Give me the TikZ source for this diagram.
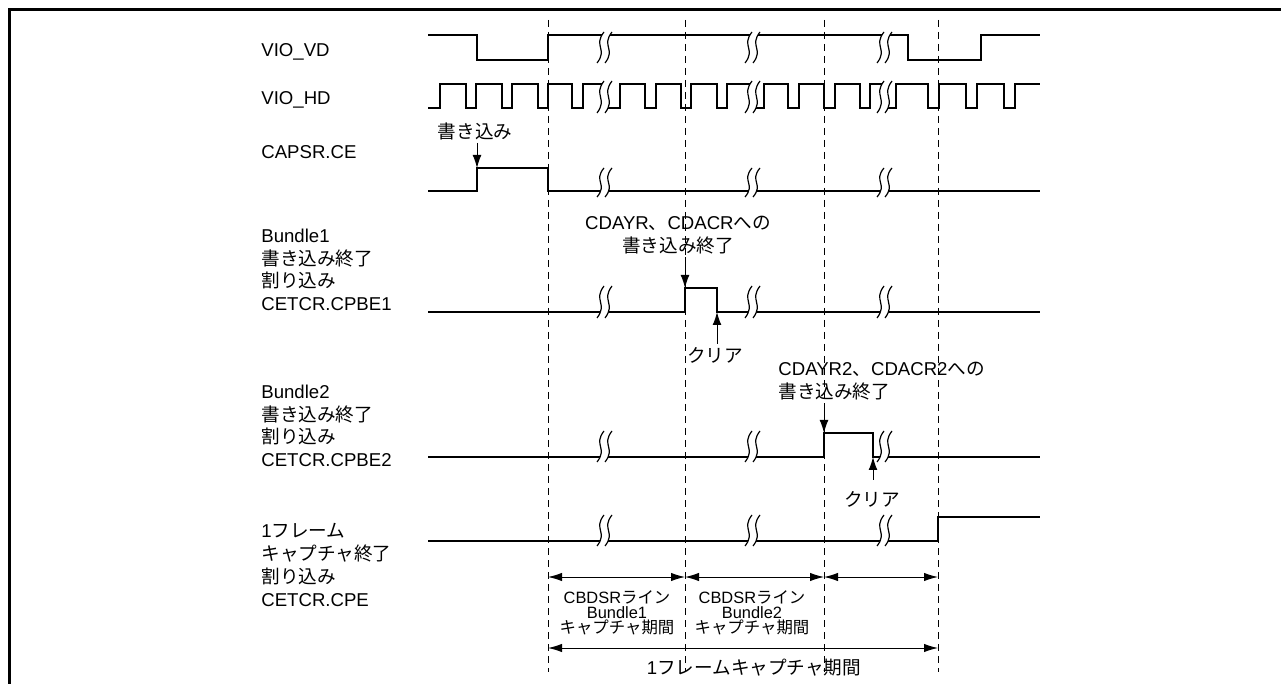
\documentclass[tikz,border=0pt]{standalone}
\usepackage{fontspec}
\setmainfont{Liberation Sans}
\newfontfamily\jp{Noto Sans CJK JP}
\usetikzlibrary{arrows.meta}
% wavy break mark: left x, top y, bottom y
\newcommand{\sigbreak}[3]{%
  \fill[white] ({#1+4},#2) .. controls ({#1-7},{#2+0.45*(#3-#2)}) and ({#1+8},{#2+0.55*(#3-#2)}) .. ({#1-3},#3)
    -- ({#1+5},#3) .. controls ({#1+16},{#2+0.55*(#3-#2)}) and ({#1+1},{#2+0.45*(#3-#2)}) .. ({#1+12},#2) -- cycle;
  \draw[line width=0.6pt] ({#1+4},#2) .. controls ({#1-7},{#2+0.45*(#3-#2)}) and ({#1+8},{#2+0.55*(#3-#2)}) .. ({#1-3},#3);
  \draw[line width=0.6pt] ({#1+12},#2) .. controls ({#1+1},{#2+0.45*(#3-#2)}) and ({#1+16},{#2+0.55*(#3-#2)}) .. ({#1+5},#3);
}

\begin{document}
\begin{tikzpicture}[
                x=0.5pt, y=-0.5pt,
                sig/.style={line width=1.25pt},
                guide/.style={line width=0.5pt, dash pattern=on 3.5pt off 2.5pt},
                lbl/.style={anchor=west, align=left, inner sep=0pt, font=\fontsize{9.3}{11.35}\selectfont},
                note/.style={align=center, inner sep=1.5pt, font=\fontsize{9.3}{11.5}\selectfont},
                small/.style={align=center, inner sep=0pt, font=\fontsize{8.2}{7.6}\selectfont},
                marker/.style={-{Latex[length=6.5pt,width=4.4pt]}, line width=0.5pt},
                span/.style={{Latex[length=7pt,width=4.2pt]}-{Latex[length=7pt,width=4.2pt]}, line width=0.5pt}
            ]
            \useasboundingbox (0,0) rectangle (1281,684);
            \draw[line width=1.5pt] (1281,10) -- (9.5,10) -- (9.5,684);

            % signal names
            \node[lbl] (vd) at (261,52) {VIO\_VD};
            \node[lbl] (hd) at (261,100) {VIO\_HD};
            \node[lbl] (ce) at (261,152) {CAPSR.CE};
            \node[lbl] (b1) at (261,270) {Bundle1\\{\jp 書き込み終了}\\{\jp 割り込み}\\CETCR.CPBE1};
            \node[lbl] (b2) at (261,426) {Bundle2\\{\jp 書き込み終了}\\{\jp 割り込み}\\CETCR.CPBE2};
            \node[lbl] (fr) at (261,565) {1{\jp フレーム}\\{\jp キャプチャ終了}\\{\jp 割り込み}\\CETCR.CPE};

            % frame boundaries
            \foreach \n/\x in {a/548, b/685, c/824, d/938} {
                \coordinate (top\n) at (\x,20);
                \coordinate (bot\n) at (\x,672);
                \draw[guide] (top\n) -- (bot\n);
            }

            % waveforms
            \draw[sig] (428,35) -- (477,35) -- (477,60) -- (548,60) -- (548,35) -- (908,35) -- (908,60) -- (981,60) -- (981,35) -- (1040,35);
            \draw[sig] (428,108) -- (440,108) -- (440,84)
                \foreach \a/\b in {466/476, 502/512, 538/548, 572/583, 606/620, 645/656, 681/691, 717/727, 753/764, 788/799, 824/835, 860/870, 886/896, 928/939, 966/977, 1004/1015} {
                    -- (\a,84) -- (\a,108) -- (\b,108) -- (\b,84)
                } -- (1040,84);
            \draw[sig] (428,191) -- (477,191) -- (477,168) -- (548,168) -- (548,191) -- (1040,191);
            \draw[sig] (428,312) -- (685,312) -- (685,288) -- (717,288) -- (717,312) -- (1040,312);
            \draw[sig] (428,457) -- (824,457) -- (824,433) -- (873,433) -- (873,457) -- (1040,457);
            \draw[sig] (428,541) -- (938,541) -- (938,517) -- (1040,517);

            % break marks
            \foreach \x in {600, 748, 880} {
                \sigbreak{\x}{32}{63}
                \sigbreak{\x}{81}{113}
                \sigbreak{\x}{168}{197}
                \sigbreak{\x}{286}{318}
                \sigbreak{\x}{431}{462}
                \sigbreak{\x}{515}{546}
            }

            \coordinate (ceRise) at (477,168);
            \coordinate (b1Rise) at (685,288);
            \coordinate (b1Fall) at (717,312);
            \coordinate (b2Rise) at (824,433);
            \coordinate (b2Fall) at (873,457);

            % events
            \node[note] (wr) at (475,131) {\jp 書き込み};
            \node[note] (cd1) at (678,235) {CDAYR{\jp 、}CDACR{\jp への}\\{\jp 書き込み終了}};
            \node[note] (clr1) at (715,355) {\jp クリア};
            \node[note, anchor=west, align=left] (cd2) at (775,381) {CDAYR2{\jp 、}CDACR2{\jp への}\\{\jp 書き込み終了}};
            \node[note] (clr2) at (872,499) {\jp クリア};
            \draw[marker] (wr.south -| ceRise) -- (ceRise);
            \draw[marker] (cd1.south -| b1Rise) -- (b1Rise);
            \draw[marker] (clr1.north -| b1Fall) -- (b1Fall);
            \draw[marker] (cd2.south -| b2Rise) -- (b2Rise);
            \draw[marker, shorten <=4pt] (clr2.north -| b2Fall) -- (b2Fall);

            % capture periods
            \foreach \n in {a, b, c, d} {
                \coordinate (p\n) at (top\n |- 0,577);
                \coordinate (q\n) at (top\n |- 0,648);
            }
            \draw[span] (pa) -- (pb);
            \draw[span] (pb) -- (pc);
            \draw[span] (pc) -- (pd);
            \draw[span] (qa) -- (qd);
            \node[small] (per1) at (617,613) {CBDSR{\jp ライン}\\Bundle1\\{\jp キャプチャ期間}};
            \node[small] (per2) at (752,613) {CBDSR{\jp ライン}\\Bundle2\\{\jp キャプチャ期間}};
            \node[note] (tot) at (754,668) {1{\jp フレームキャプチャ期間}};
        \end{tikzpicture}
\end{document}
